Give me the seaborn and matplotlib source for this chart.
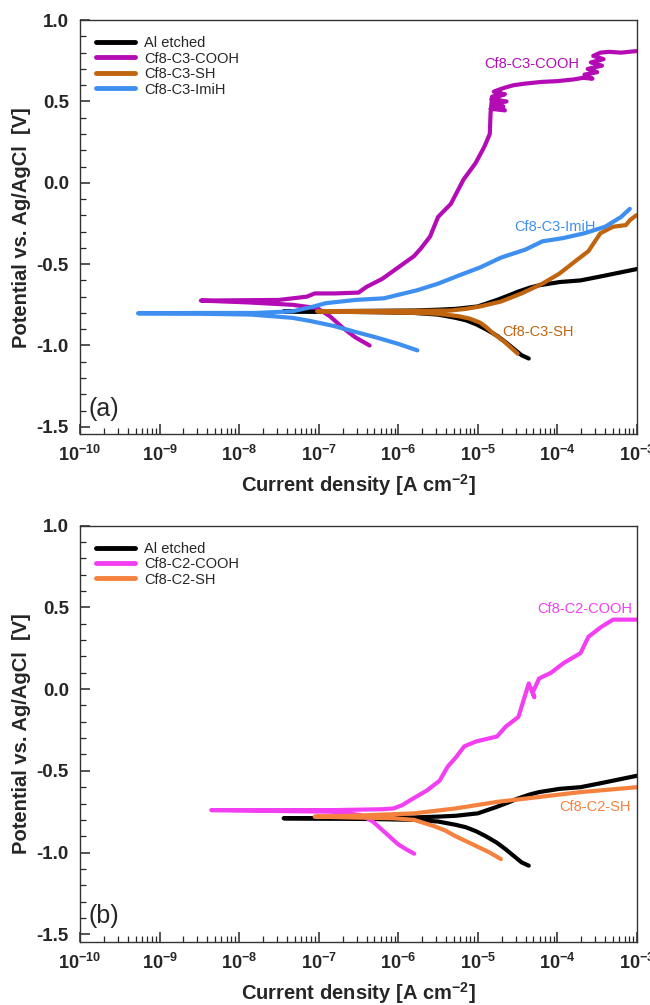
import numpy as np
import pandas as pd
import matplotlib
matplotlib.use('Agg')
import matplotlib.pyplot as plt
import seaborn as sns
from matplotlib.ticker import FixedLocator, LogLocator, FuncFormatter, NullFormatter

sns.set_style('ticks')
plt.rcParams['font.family'] = ['Liberation Sans', 'DejaVu Sans']
plt.rcParams['mathtext.fontset'] = 'custom'
plt.rcParams['mathtext.rm'] = 'Liberation Sans'
plt.rcParams['mathtext.bf'] = 'Liberation Sans:bold'

# log10 of current density [A cm-2] and potential [V]; cathodic end -> Ecorr -> anodic end
al_logi = [-4.36, -4.45, -4.55, -4.65, -4.76, -4.9, -5.02, -5.15, -5.28, -5.5, -5.8, -6.3, -7.0, -7.44,
           -7.0, -6.3, -5.8, -5.5, -5.28, -5.0, -4.76, -4.6, -4.5, -4.35, -4.23, -3.97, -3.71, -3.45, -3.2, -3.0]
al_e = [-1.08, -1.06, -1.02, -0.98, -0.94, -0.90, -0.87, -0.845, -0.83, -0.81, -0.80, -0.795, -0.792, -0.79,
        -0.789, -0.787, -0.785, -0.78, -0.775, -0.76, -0.72, -0.69, -0.67, -0.645, -0.63, -0.61, -0.60, -0.575, -0.55, -0.53]

c3_cooh_logi = [-6.36, -6.45, -6.54, -6.62, -6.70, -6.78, -6.86, -7.02, -7.33, -7.9, -8.48,
                -8.0, -7.5, -7.15, -7.05, -6.8, -6.5, -6.4, -6.2, -6.0, -5.8, -5.71, -5.6, -5.5, -5.34,
                -5.18, -5.03, -4.92, -4.85, -4.84, -4.82,
                -4.66, -4.83, -4.64, -4.82, -4.68, -4.84, -4.66, -4.82, -4.70, -4.80, -4.72,
                -4.66, -4.55, -4.4, -4.2, -4.0, -3.8, -3.68,
                -3.56, -3.66, -3.50, -3.62, -3.44, -3.58, -3.42, -3.55, -3.46,
                -3.35, -3.2, -3.0]
c3_cooh_e = [-1.0, -0.975, -0.95, -0.92, -0.89, -0.855, -0.82, -0.77, -0.75, -0.735, -0.724,
             -0.722, -0.72, -0.70, -0.68, -0.68, -0.675, -0.64, -0.59, -0.52, -0.45, -0.40, -0.33, -0.21, -0.13,
             0.02, 0.12, 0.22, 0.30, 0.43, 0.53,
             0.545, 0.515, 0.50, 0.485, 0.47, 0.455, 0.445, 0.52, 0.55, 0.56, 0.575,
             0.585, 0.60, 0.61, 0.62, 0.625, 0.635, 0.645,
             0.64, 0.665, 0.68, 0.70, 0.72, 0.74, 0.76, 0.78, 0.80,
             0.805, 0.80, 0.81]

c3_sh_logi = [-4.50, -4.58, -4.66, -4.74, -4.82, -4.9, -4.97, -5.1, -5.24, -5.5, -5.76, -6.4, -7.02,
              -6.4, -5.76, -5.34, -5.15, -4.97, -4.71, -4.45, -4.19, -3.98, -3.77, -3.61, -3.46, -3.3, -3.14, -3.09, -3.01]
c3_sh_e = [-1.05, -1.015, -0.98, -0.95, -0.92, -0.885, -0.86, -0.835, -0.82, -0.805, -0.80, -0.795, -0.79,
           -0.788, -0.787, -0.785, -0.775, -0.76, -0.73, -0.68, -0.62, -0.56, -0.48, -0.42, -0.31, -0.27, -0.26, -0.23, -0.20]

c3_imih_logi = [-5.76, -6.0, -6.28, -6.55, -6.81, -7.1, -7.33, -7.85, -8.5, -9.27,
                -8.5, -7.8, -7.33, -7.1, -6.91, -6.54, -6.18, -5.76, -5.5, -5.24, -4.97, -4.71, -4.40,
                -4.19, -3.93, -3.66, -3.40, -3.2, -3.09]
c3_imih_e = [-1.03, -0.99, -0.95, -0.915, -0.88, -0.85, -0.83, -0.81, -0.805, -0.802,
             -0.80, -0.80, -0.79, -0.765, -0.74, -0.72, -0.71, -0.66, -0.62, -0.57, -0.52, -0.46, -0.41,
             -0.36, -0.34, -0.31, -0.27, -0.21, -0.16]

c2_cooh_logi = [-5.80, -5.9, -6.0, -6.08, -6.16, -6.24, -6.32, -6.47, -6.84, -7.6, -8.35,
                -7.5, -6.8, -6.2, -6.06, -5.95, -5.85, -5.64, -5.48, -5.38, -5.28, -5.17, -5.02, -4.76,
                -4.65, -4.49, -4.42, -4.36, -4.29, -4.31, -4.23, -4.08, -3.92, -3.71, -3.61, -3.45, -3.30, -3.0]
c2_cooh_e = [-1.007, -0.98, -0.95, -0.915, -0.88, -0.845, -0.81, -0.77, -0.75, -0.745, -0.74,
             -0.74, -0.74, -0.735, -0.73, -0.71, -0.68, -0.62, -0.56, -0.475, -0.42, -0.35, -0.32, -0.29,
             -0.23, -0.17, -0.06, 0.035, -0.05, -0.02, 0.065, 0.10, 0.16, 0.22, 0.32, 0.38, 0.425, 0.425]

c2_sh_logi = [-4.71, -4.85, -5.02, -5.15, -5.28, -5.41, -5.54, -5.8, -6.06, -6.6, -7.05,
              -6.6, -6.32, -5.8, -5.28, -4.76, -4.23, -3.71, -3.35, -3.0]
c2_sh_e = [-1.04, -1.0, -0.96, -0.93, -0.90, -0.865, -0.84, -0.80, -0.79, -0.785, -0.78,
           -0.775, -0.77, -0.76, -0.73, -0.69, -0.66, -0.63, -0.615, -0.60]

panel_a = [('Al etched', al_logi, al_e, '#000000'),
           ('Cf8-C3-COOH', c3_cooh_logi, c3_cooh_e, '#b40cb4'),
           ('Cf8-C3-SH', c3_sh_logi, c3_sh_e, '#c0640f'),
           ('Cf8-C3-ImiH', c3_imih_logi, c3_imih_e, '#3f8ff0')]
panel_b = [('Al etched', al_logi, al_e, '#000000'),
           ('Cf8-C2-COOH', c2_cooh_logi, c2_cooh_e, '#f23ff2'),
           ('Cf8-C2-SH', c2_sh_logi, c2_sh_e, '#f5813f')]

fig = plt.figure(figsize=(6.5, 10.05), dpi=100)
ax_a = fig.add_axes([0.123, 0.568, 0.857, 0.412])
ax_b = fig.add_axes([0.123, 0.063, 0.857, 0.414])


def dec_fmt(x, pos):
    return r'$\mathbf{10^{%d}}$' % int(round(np.log10(x)))


def draw(ax, curves, labels, tag):
    for name, logi, e, col in curves:
        df = pd.DataFrame({'i': 10.0 ** np.array(logi), 'E': e})
        sns.lineplot(data=df, x='i', y='E', ax=ax, sort=False, estimator=None,
                     color=col, lw=3, label=name)
    ax.set_xscale('log')
    ax.set_xlim(1e-10, 1e-3)
    ax.set_ylim(-1.545, 1.0)
    ax.xaxis.set_major_locator(FixedLocator([10.0 ** k for k in range(-10, -2)]))
    ax.xaxis.set_major_formatter(FuncFormatter(dec_fmt))
    ax.xaxis.set_minor_locator(LogLocator(base=10, subs=np.arange(2, 10), numticks=20))
    ax.xaxis.set_minor_formatter(NullFormatter())
    ax.set_yticks([-1.5, -1.0, -0.5, 0.0, 0.5, 1.0])
    ax.set_yticks(np.arange(-1.5, 1.01, 0.1), minor=True)
    ax.yaxis.set_major_formatter(FuncFormatter(lambda v, p: '%.1f' % v))
    ax.tick_params(which='both', direction='in', top=False, right=False)
    ax.tick_params(which='major', length=7, width=1.1, pad=8)
    ax.tick_params(which='minor', length=4, width=0.9)
    ax.tick_params(axis='x', labelsize=13)
    ax.tick_params(axis='y', labelsize=13.5)
    for t in ax.get_yticklabels():
        t.set_fontweight('bold')
    for s in ax.spines.values():
        s.set_linewidth(1.0)
        s.set_color('#333333')
    ax.set_xlabel(r'Current density [A cm$^{\mathbf{-2}}$]', fontsize=14.5, fontweight='bold', labelpad=5)
    ax.set_ylabel('Potential vs. Ag/AgCl  [V]', fontsize=14.5, fontweight='bold', labelpad=4)
    leg = ax.legend(loc='upper left', frameon=False, fontsize=10.5, handlelength=2.7,
                    handletextpad=0.6, labelspacing=0.1, borderaxespad=0.7)
    for ln in leg.get_lines():
        ln.set_linewidth(3.5)
    for txt, lx, ly, col in labels:
        ax.text(10.0 ** lx, ly, txt, color=col, fontsize=10.5, ha='center', va='center')
    ax.text(10.0 ** -9.7, -1.39, tag, fontsize=18, ha='center', va='center')


draw(ax_a, panel_a,
     [('Cf8-C3-COOH', -4.32, 0.73, '#b40cb4'),
      ('Cf8-C3-ImiH', -4.03, -0.27, '#3f8ff0'),
      ('Cf8-C3-SH', -4.24, -0.915, '#c0640f')], '(a)')
draw(ax_b, panel_b,
     [('Cf8-C2-COOH', -3.66, 0.49, '#f23ff2'),
      ('Cf8-C2-SH', -3.53, -0.72, '#f5813f')], '(b)')

fig.savefig('out.png', dpi=100)
